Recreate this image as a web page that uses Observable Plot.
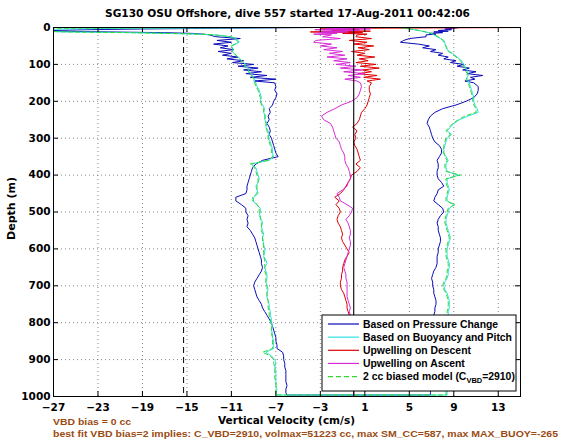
<!DOCTYPE html>
<html><head><meta charset="utf-8">
<script src="https://cdn.jsdelivr.net/npm/d3@7"></script>
<script src="https://cdn.jsdelivr.net/npm/@observablehq/plot@0.6"></script>
<style>body{margin:0;background:#fff}#chart{width:561px;height:442px}</style>
</head><body><div id="chart"></div>
<script>
// ---------- data ----------
const xTicks = [-27, -23, -19, -15, -11, -7, -3, 1, 5, 9, 13];
const yTicks = [0, 100, 200, 300, 400, 500, 600, 700, 800, 900, 1000];
const biasLine = -15.3;   // black dashed reference line
const zeroLine = 0;       // black solid reference line

const depthGrid = [0,2,4,6,8,10,12,14,16,18,20,
  25,30,35,40,45,50,55,60,65,70,75,80,85,
  90,95,100,105,110,115,120,125,130,135,140,145,150,
  160,170,180,190,200,210,220,230,240,250,
  260,270,280,290,300,310,320,330,340,350,
  360,370,380,390,400,410,420,430,440,450,
  460,470,480,490,500,510,520,530,540,550,
  560,570,580,590,600,610,620,630,640,650,
  660,670,680,690,700,710,720,730,740,750,
  760,770,780,790,800,810,820,830,840,850,
  860,870,880,890,900,910,920,930,940,950,
  960,970,980,990,
  996];

// Based on Pressure Change (descent / ascent)
const pressureDown = [-3,-12,-19,-24,-27,-27,-22,-17,-14.5,-13.5,-13.0,
  -12.4,-10.2,-12.3,-11.0,-12.6,-11.3,-12.0,-10.8,-12.2,-11.0,-11.8,-10.4,-11.4,
  -9.9,-10.9,-9.0,-10.4,-8.6,-9.9,-8.3,-9.7,-7.8,-9.3,-7.0,-8.9,-7.1,
  -7.0,-7.1,-6.9,-7.0,-7.2,-7.3,-7.6,-7.5,-7.7,-7.6,
  -7.8,-7.6,-7.5,-7.6,-7.4,-7.3,-7.2,-7.1,-7.0,-6.8,
  -8.2,-8.8,-9.1,-9.2,-9.3,-9.4,-9.5,-9.6,-9.6,-9.7,
  -10.6,-10.6,-10.1,-9.7,-9.7,-9.5,-9.6,-9.5,-9.6,-9.3,
  -9.1,-8.9,-8.8,-8.7,-8.6,-8.5,-8.4,-8.3,-8.3,-8.2,
  -8.3,-8.5,-8.7,-8.9,-9.0,-8.9,-8.8,-8.7,-8.5,-8.3,
  -8.2,-8.0,-7.8,-7.6,-7.4,-7.3,-7.2,-7.1,-7.0,-7.0,
  -6.9,-6.9,-6.4,-6.3,-6.3,-6.2,-6.2,-6.1,-6.1,-6.1,
  -6.1,-6.0,-6.1,-6.1,
  -6.0];
const pressureUp = [9.5,9.0,8.2,8.8,7.6,8.5,7.2,8.0,6.8,7.4,6.5,
  6.5,5.0,4.5,4.2,5.8,6.8,6.2,7.4,6.9,8.0,7.6,8.5,8.1,
  9.2,8.7,9.9,9.3,10.4,9.8,11.0,10.2,11.6,10.5,10.9,10.0,10.8,
  11.2,11.2,11.1,10.8,10.1,9.2,8.0,7.3,6.9,6.7,
  6.6,6.8,6.9,7.0,7.1,7.3,7.7,7.9,7.9,7.7,
  7.5,7.6,7.6,7.5,7.5,7.6,7.9,8.1,7.6,7.5,
  7.3,7.2,7.6,8.0,8.1,7.8,7.6,7.5,7.6,7.6,
  7.7,7.8,7.8,7.7,7.6,7.6,7.5,7.5,7.5,7.4,
  7.2,7.1,7.0,7.1,7.1,7.2,7.2,7.3,7.4,7.4,
  7.3,7.3,7.2,7.3,7.2,7.1,7.2,7.1,7.0,7.0,
  7.0,7.0,6.9,6.9,7.0,6.9,6.8,6.9,6.9,6.9,
  6.9,6.9,6.9,6.9,
  6.9];

// Based on Buoyancy and Pitch
const buoyDown = [-5,-20,-26,-28,-29,-28,-26,-20,-17,-14,-12.5,
  -11.0,-10.6,-10.4,-10.3,-10.6,-11.0,-10.9,-10.8,-10.9,-10.8,-10.6,-10.4,-10.2,
  -10.1,-9.9,-9.7,-9.8,-9.5,-9.4,-9.5,-9.2,-9.1,-9.0,-8.9,-9.0,-8.8,
  -8.7,-8.5,-8.4,-8.3,-8.4,-8.2,-8.0,-8.1,-7.9,-8.0,
  -7.8,-7.9,-7.7,-7.6,-7.7,-7.5,-7.4,-7.3,-7.3,-7.2,
  -7.6,-9.2,-8.8,-8.7,-8.6,-8.5,-8.6,-8.8,-8.7,-8.6,
  -9.0,-9.1,-8.7,-8.4,-8.4,-8.5,-8.3,-8.2,-8.3,-8.2,
  -8.1,-8.2,-8.1,-8.1,-8.0,-8.0,-8.1,-7.9,-7.8,-8.0,
  -7.9,-7.8,-7.8,-7.9,-7.8,-7.7,-7.8,-7.8,-7.7,-7.6,
  -7.6,-7.5,-7.5,-7.4,-7.4,-7.3,-7.4,-7.3,-7.3,-7.2,
  -7.2,-7.2,-7.9,-7.4,-7.1,-7.0,-7.1,-7.0,-7.0,-7.0,
  -7.0,-7.0,-6.9,-7.0,
  -6.9];
const buoyUp = [4.0,4.5,5.0,5.4,5.8,6.1,6.4,6.7,6.9,7.1,7.2,
  7.5,7.8,8.1,8.2,8.2,8.3,8.4,8.4,8.6,8.9,9.1,9.3,9.5,
  9.7,9.8,9.9,10.0,10.1,10.2,10.2,10.3,10.3,10.2,10.2,10.3,10.4,
  10.5,10.6,10.7,10.8,10.8,10.9,11.1,11.2,10.3,9.5,
  9.0,8.7,8.4,8.8,8.4,8.3,8.2,8.1,8.1,8.3,
  8.5,8.3,8.3,8.4,9.4,8.4,8.4,8.5,8.6,8.5,
  8.4,8.4,9.0,8.6,8.5,8.4,8.3,8.3,8.4,8.5,
  8.6,8.7,8.6,8.5,8.4,8.4,8.4,8.5,8.6,8.6,
  8.5,8.5,8.4,8.2,8.1,8.2,8.4,8.5,8.6,8.6,
  8.6,8.5,8.5,8.5,8.4,8.4,8.4,8.4,8.4,8.4,
  8.4,8.5,8.4,8.4,8.3,8.4,8.4,8.4,8.5,8.4,
  8.4,8.4,8.4,8.4,
  8.4];

// 2 cc biased model
const modelDown = [-3,-30,-29,-29,-29,-28,-26,-20,-16.5,-14,-12.5,
  -11.1,-10.7,-10.5,-10.4,-10.7,-11.0,-10.9,-10.9,-10.9,-10.7,-10.6,-10.4,-10.3,
  -10.1,-10.0,-9.8,-9.8,-9.6,-9.5,-9.4,-9.3,-9.2,-9.1,-9.0,-9.0,-8.9,
  -8.8,-8.6,-8.5,-8.4,-8.4,-8.3,-8.1,-8.1,-8.0,-8.0,
  -7.9,-7.9,-7.8,-7.7,-7.7,-7.6,-7.5,-7.4,-7.4,-7.3,
  -7.7,-9.3,-8.9,-8.8,-8.7,-8.6,-8.6,-8.7,-8.7,-8.7,
  -9.1,-9.0,-8.7,-8.5,-8.5,-8.4,-8.4,-8.3,-8.3,-8.3,
  -8.2,-8.2,-8.2,-8.1,-8.1,-8.1,-8.1,-8.0,-8.0,-8.0,
  -8.0,-7.9,-7.9,-7.9,-7.8,-7.8,-7.8,-7.8,-7.7,-7.7,
  -7.7,-7.6,-7.6,-7.5,-7.5,-7.4,-7.4,-7.4,-7.3,-7.3,
  -7.3,-7.3,-8.2,-7.5,-7.2,-7.2,-7.1,-7.1,-7.1,-7.1,
  -7.0,-7.0,-7.0,-7.0,
  -7.0];
const modelUp = [4.2,4.6,5.1,5.5,5.9,6.2,6.5,6.8,7.0,7.2,7.3,
  7.6,7.9,8.0,8.1,8.2,8.3,8.3,8.4,8.5,8.8,9.0,9.2,9.4,
  9.6,9.7,9.8,9.9,10.0,10.1,10.1,10.2,10.2,10.2,10.1,10.2,10.3,
  10.4,10.5,10.6,10.7,10.7,10.8,11.0,11.0,10.0,9.4,
  8.9,8.6,8.3,8.7,8.3,8.2,8.1,8.1,8.1,8.2,
  8.4,8.2,8.2,8.3,9.6,8.3,8.3,8.4,8.5,8.4,
  8.3,8.3,9.1,8.5,8.4,8.3,8.2,8.2,8.3,8.4,
  8.5,8.6,8.5,8.4,8.3,8.3,8.3,8.4,8.5,8.5,
  8.4,8.4,8.3,8.1,8.0,8.1,8.3,8.4,8.5,8.5,
  8.5,8.4,8.4,8.4,8.3,8.3,8.3,8.3,8.3,8.3,
  8.3,8.4,8.3,8.3,8.2,8.3,8.3,8.3,8.4,8.3,
  8.3,8.3,8.3,8.3,
  8.3];

// Upwelling on Descent / on Ascent
const upwellDescent = [16,1.0,-3.0,0.5,-2.0,1.5,-3.9,0.8,-1.0,1.2,0.3,
  0.2,1.6,-0.4,1.2,0.0,1.8,0.4,1.4,-0.2,1.0,0.3,1.9,0.5,
  1.3,0.2,2.0,0.6,2.3,0.8,1.6,0.4,2.1,0.9,2.4,1.2,1.6,
  1.4,1.4,1.5,1.4,1.3,1.2,1.0,0.7,0.6,0.5,
  0.3,-0.1,0.3,0.1,0.2,0.0,0.1,0.3,0.4,0.5,
  0.6,0.2,0.6,0.3,-0.2,-0.3,-0.5,-0.7,-0.9,-1.2,
  -1.7,-1.3,-1.6,-1.3,-1.2,-1.4,-1.5,-1.4,-1.2,-1.1,
  -1.0,-1.1,-1.0,-0.8,-0.6,-0.4,-0.6,-0.8,-0.9,-1.0,
  -1.0,-1.1,-1.1,-1.2,-1.2,-1.1,-0.9,-0.8,-0.7,-0.6,
  -0.6,-0.5,-0.4,-0.3,-0.4,-0.3,-0.2,-0.3,-0.2,-0.1,
  -0.1,0.0,-0.1,0.0,0.1,0.0,-0.1,0.0,0.1,0.0,
  0.0,0.1,0.0,0.0,
  0.0];
const upwellAscent = [-1.0,-2.5,1.5,-3.5,0.5,-2.8,-0.5,-3.2,-1.5,-3.6,-2.0,
  -2.8,-1.2,-3.4,-3.6,-2.0,-3.0,-1.5,-2.7,-1.0,-2.2,-0.8,-2.4,-0.6,
  -1.8,-0.3,-1.6,0.2,-1.2,0.8,-0.9,1.0,-0.5,0.6,-0.8,0.3,0.6,
  0.7,0.6,0.5,0.3,-0.2,-1.1,-1.7,-2.4,-2.9,-2.7,
  -2.1,-1.9,-1.8,-1.7,-1.6,-1.3,-1.2,-1.1,-0.9,-0.8,
  -0.8,-0.7,-0.5,-0.4,-0.3,-0.3,-0.5,-0.6,-1.0,-1.5,
  -1.3,-1.2,-0.6,-0.1,-0.2,-0.4,-0.7,-0.5,-0.4,-0.3,
  -0.3,-0.4,-0.3,-0.3,-0.4,-0.5,-0.6,-0.7,-0.8,-0.9,
  -0.8,-0.7,-0.7,-0.6,-0.6,-0.6,-0.6,-0.6,-0.5,-0.4,
  -0.3,-0.4,-0.3,-0.2,-0.3,-0.2,-0.2,-0.1,-0.2,-0.1,
  -0.1,-0.1,-0.1,0.0,-0.1,0.0,0.0,-0.1,0.0,0.0,
  0.0,0.0,0.0,0.0,
  0.0];

const legendLabels = ["Based on Pressure Change", "Based on Buoyancy and Pitch",
  "Upwelling on Descent", "Upwelling on Ascent", "2 cc biased model (C"];
const titleText = "SG130 OSU Offshore, dive 557 started 17-Aug-2011 00:42:06";
const xLabel = "Vertical Velocity (cm/s)";
const yLabel = "Depth (m)";
const note1 = "VBD bias = 0 cc";
const note2 = "best fit VBD bias=2 implies: C_VBD=2910, volmax=51223 cc, max SM_CC=587, max MAX_BUOY=-265";

// ---------- build ----------
const colors = {blue: "#0b0bb8", cyan: "#2fe3e3", red: "#e00000", magenta: "#d62ad6", green: "#2fd82f"};
function rows(vals) {
  const n = Math.min(vals.length, depthGrid.length);
  return vals.slice(0, n).map((v, i) => ({depth: depthGrid[i], v}));
}
const profile = (down, up) => [...rows(down), ...rows(up).reverse()];
const bluePath = profile(pressureDown, pressureUp);
const cyanPath = profile(buoyDown, buoyUp);
const greenPath = profile(modelDown, modelUp);
const redPath = rows(upwellDescent);
const magentaPath = rows(upwellAscent);

const W = 561, H = 442, mL = 53, mR = 41, mT = 27, mB = 46;
const frameW = W - mL - mR, frameH = H - mT - mB;
const fmtTick = d => (d < 0 ? "\u2212" + Math.abs(d) : String(d));

const chart = Plot.plot({
  width: W, height: H,
  marginLeft: mL, marginRight: mR, marginTop: mT, marginBottom: mB,
  style: {fontFamily: "DejaVu Sans", fontWeight: "bold", fontSize: "10.5px", background: "white", color: "black"},
  x: {domain: [-27, 15]},
  y: {domain: [0, 1000], reverse: true},
  marks: [
    Plot.ruleX(xTicks, {stroke: "#666", strokeWidth: 0.8, strokeDasharray: "1,3"}),
    Plot.ruleY(yTicks, {stroke: "#666", strokeWidth: 0.8, strokeDasharray: "1,3"}),
    Plot.ruleX([biasLine], {stroke: "black", strokeWidth: 1, strokeDasharray: "6,4"}),
    Plot.line(bluePath, {x: "v", y: "depth", stroke: colors.blue, strokeWidth: 1, clip: true}),
    Plot.line(cyanPath, {x: "v", y: "depth", stroke: colors.cyan, strokeWidth: 1, clip: true}),
    Plot.line(redPath, {x: "v", y: "depth", stroke: colors.red, strokeWidth: 1, clip: true}),
    Plot.line(magentaPath, {x: "v", y: "depth", stroke: colors.magenta, strokeWidth: 1, clip: true}),
    Plot.line(greenPath, {x: "v", y: "depth", stroke: colors.green, strokeWidth: 1, strokeDasharray: "4,3", clip: true}),
    Plot.ruleX([zeroLine], {stroke: "black", strokeWidth: 1.1}),
    Plot.tickX(xTicks, {x: d => d, insetTop: frameH - 5, stroke: "black"}),
    Plot.tickX(xTicks, {x: d => d, insetBottom: frameH - 5, stroke: "black"}),
    Plot.tickY(yTicks, {y: d => d, insetRight: frameW - 5, stroke: "black"}),
    Plot.tickY(yTicks, {y: d => d, insetLeft: frameW - 5, stroke: "black"}),
    Plot.frame({stroke: "black", strokeWidth: 1}),
    Plot.axisX({ticks: xTicks, tickSize: 0, tickPadding: 7, label: null, fill: "black", tickFormat: fmtTick}),
    Plot.axisY({ticks: yTicks, tickSize: 0, tickPadding: 3, label: null, fill: "black", tickFormat: fmtTick})
  ]
});
document.getElementById("chart").appendChild(chart);

// ---------- texts & legend ----------
const svg = d3.select(chart);
function addText(t, x, y, opts) {
  const el = svg.append("text").attr("x", x).attr("y", y).text(t)
    .attr("font-family", opts.family || "DejaVu Sans").attr("font-weight", "bold")
    .attr("font-size", opts.size || 10.5).attr("fill", opts.fill || "black")
    .attr("text-anchor", opts.anchor || "start");
  if (opts.len) el.attr("textLength", opts.len).attr("lengthAdjust", "spacingAndGlyphs");
  if (opts.transform) el.attr("transform", opts.transform);
  return el;
}
addText(titleText, 287.5, 17, {anchor: "middle", len: 365});
addText(xLabel, 286.5, 423.5, {anchor: "middle", len: 137});
addText(yLabel, 0, 0, {anchor: "middle", len: 63, transform: "translate(14.5,208.5) rotate(-90)"});
const brown = "#9a4b12";
addText(note1, 53, 425, {family: "Liberation Sans", size: 9.5, fill: brown, len: 78});
addText(note2, 53, 437, {family: "Liberation Sans", size: 9.5, fill: brown, len: 505});

const lg = svg.append("g");
lg.append("rect").attr("x", 322).attr("y", 315).attr("width", 194).attr("height", 76)
  .attr("fill", "white").attr("stroke", "black").attr("stroke-width", 1);
const legendColors = [colors.blue, colors.cyan, colors.red, colors.magenta, colors.green];
legendLabels.forEach((lab, i) => {
  const cy = 324 + i * 13.15;
  const ln = lg.append("line").attr("x1", 328).attr("x2", 359).attr("y1", cy).attr("y2", cy)
    .attr("stroke", legendColors[i]).attr("stroke-width", 1.2);
  if (i === 4) ln.attr("stroke-dasharray", "5,3");
  const t = lg.append("text").attr("x", 363).attr("y", cy + 3.7)
    .attr("text-anchor", "start")
    .attr("font-family", "Liberation Sans").attr("font-weight", "bold").attr("font-size", 10.4)
    .attr("fill", "black").text(lab);
  if (i === 4) {
    t.append("tspan").attr("font-size", 7.5).attr("dy", 2.5).text("VBD");
    t.append("tspan").attr("dy", -2.5).text("=2910)");
  }
});
</script>
</body></html>
